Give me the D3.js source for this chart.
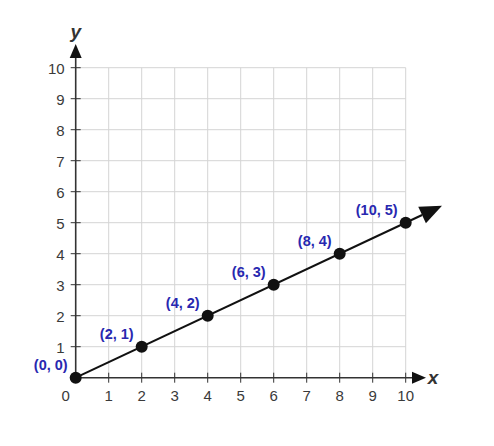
<!DOCTYPE html>
<html><head><meta charset="utf-8">
<script src="https://cdn.jsdelivr.net/npm/d3@7"></script>
<style>body{margin:0;background:#fff}svg{display:block}</style>
</head><body>
<svg id="c" width="494" height="446"></svg>
<script>
const xTicks = [0,1,2,3,4,5,6,7,8,9,10];
const yTicks = [1,2,3,4,5,6,7,8,9,10];
const pointsX = [0,2,4,6,8,10];
const pointsY = [0,1,2,3,4,5];
const pointLabels = ["(0, 0)","(2, 1)","(4, 2)","(6, 3)","(8, 4)","(10, 5)"];
const lineEnd = [11.1, 5.55];

const svg = d3.select("#c");
const x = d3.scaleLinear().domain([0,10]).range([75.7,405.7]);
const y = d3.scaleLinear().domain([0,10]).range([377.7,67.7]);
const axisColor = "#333";
const font = "Arial, 'Liberation Sans', sans-serif";

// grid
const g = svg.append("g");
g.selectAll(".vx").data(xTicks.filter(d=>d>0)).join("line")
  .attr("x1",d=>x(d)).attr("x2",d=>x(d)).attr("y1",y(0)).attr("y2",y(10))
  .attr("stroke","#d4d4d4").attr("stroke-width",1);
g.selectAll(".hy").data(yTicks).join("line")
  .attr("y1",d=>y(d)).attr("y2",d=>y(d)).attr("x1",x(0)).attr("x2",x(10))
  .attr("stroke","#d4d4d4").attr("stroke-width",1);

// axes
svg.append("line").attr("x1",x(0)).attr("x2",412).attr("y1",y(0)).attr("y2",y(0)).attr("stroke",axisColor).attr("stroke-width",1.6);
svg.append("path").attr("d",`M412,${y(0)-6}L426,${y(0)}L412,${y(0)+6}Z`).attr("fill","#111");
svg.append("line").attr("x1",x(0)).attr("x2",x(0)).attr("y1",y(0)).attr("y2",58).attr("stroke",axisColor).attr("stroke-width",1.6);
svg.append("path").attr("d",`M${x(0)-6},58L${x(0)},44L${x(0)+6},58Z`).attr("fill","#111");

// ticks
svg.selectAll(".xt").data(xTicks.filter(d=>d>0)).join("line")
  .attr("x1",d=>x(d)).attr("x2",d=>x(d)).attr("y1",y(0)-5).attr("y2",y(0)+5).attr("stroke",axisColor);
svg.selectAll(".yt").data(yTicks).join("line")
  .attr("y1",d=>y(d)).attr("y2",d=>y(d)).attr("x1",x(0)-5).attr("x2",x(0)+5).attr("stroke",axisColor);

// tick labels
svg.selectAll(".xl").data(xTicks).join("text")
  .attr("x",d=>d===0?x(0)-10:x(d)).attr("y",y(0)+23)
  .attr("text-anchor","middle").attr("font-family",font).attr("font-size",15).attr("fill","#3a3a3a")
  .text(d=>d);
svg.selectAll(".yl").data(yTicks).join("text")
  .attr("x",x(0)-11).attr("y",d=>y(d)+6)
  .attr("text-anchor","end").attr("font-family",font).attr("font-size",15).attr("fill","#3a3a3a")
  .text(d=>d);

svg.append("text").attr("x",x(0)).attr("y",38).attr("text-anchor","middle")
  .attr("font-family",font).attr("font-size",19).attr("font-weight","bold").attr("font-style","italic").attr("fill","#333").text("y");
svg.append("text").attr("x",433).attr("y",y(0)+6).attr("text-anchor","middle")
  .attr("font-family",font).attr("font-size",19).attr("font-weight","bold").attr("font-style","italic").attr("fill","#333").text("x");

// line with arrow
const ex = x(lineEnd[0]), ey = y(lineEnd[1]);
const ang = Math.atan2(ey - y(0), ex - x(0));
const L = 22, W = 9;
const bx = ex - L*Math.cos(ang), by = ey - L*Math.sin(ang);
svg.append("line").attr("x1",x(0)).attr("y1",y(0)).attr("x2",bx).attr("y2",by).attr("stroke","#111").attr("stroke-width",2);
svg.append("path").attr("d",`M${ex},${ey}L${bx - W*Math.sin(ang)},${by + W*Math.cos(ang)}L${bx + W*Math.sin(ang)},${by - W*Math.cos(ang)}Z`).attr("fill","#111");

// points
const pts = pointsX.map((d,i)=>({x:d,y:pointsY[i],label:pointLabels[i]}));
svg.selectAll(".pt").data(pts).join("circle")
  .attr("cx",d=>x(d.x)).attr("cy",d=>y(d.y)).attr("r",6).attr("fill","#111");
svg.selectAll(".pl").data(pts).join("text")
  .attr("x",d=>x(d.x)-8).attr("y",d=>y(d.y)-7.5).attr("text-anchor","end")
  .attr("font-family",font).attr("font-size",14.5).attr("font-weight","bold").attr("fill","#2828b0")
  .text(d=>d.label);
</script>
</body></html>
